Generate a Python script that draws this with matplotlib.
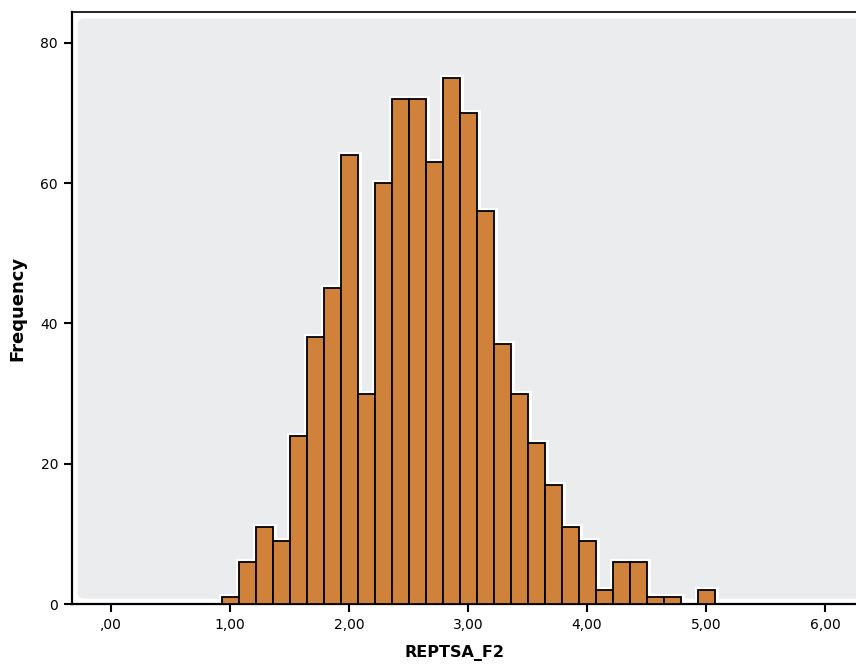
import numpy as np
import matplotlib
matplotlib.use("Agg")
import matplotlib.pyplot as plt
from matplotlib.patches import FancyBboxPatch

# histogram of REPTSA_F2 (bins of width 1/7 centred on 1,00 ... 5,00)
counts = [1, 6, 11, 9, 24, 38, 45, 64, 30, 60, 72, 72, 63, 75, 70, 56,
          37, 30, 23, 17, 11, 9, 2, 6, 6, 1, 1, 0, 2]
first_center = 1.0
bin_width = 1 / 7

x_ticks = [0, 1, 2, 3, 4, 5, 6]
x_tick_labels = [",00", "1,00", "2,00", "3,00", "4,00", "5,00", "6,00"]
y_ticks = [0, 20, 40, 60, 80]

bar_color = "#D0823A"
bg_color = "#EBECEE"

centers = first_center + bin_width * np.arange(len(counts))

fig = plt.figure(figsize=(8.56, 6.68), dpi=100)
ax = fig.add_axes([72 / 856, 64 / 668, 1 - 72 / 856, (604 - 12) / 668])

# light grey plotting area with a white margin and rounded corners
ax.add_patch(FancyBboxPatch((0.007, 0.009), 1.2, 0.98, boxstyle="round,pad=0,rounding_size=0.01",
                            transform=ax.transAxes, facecolor=bg_color, edgecolor="none", zorder=0))

# white halo behind the bars, then the bars themselves
ax.bar(centers, counts, width=bin_width, color=bar_color, edgecolor="white",
       linewidth=5, zorder=2)
ax.bar(centers, counts, width=bin_width, color=bar_color, edgecolor="black",
       linewidth=1.3, zorder=3)

ax.set_xlim(-0.328, 6.26)
ax.set_ylim(0, 84.4)
ax.set_xticks(x_ticks)
ax.set_xticklabels(x_tick_labels)
ax.set_yticks(y_ticks)
ax.tick_params(direction="out", length=6, width=1.5, labelsize=10, pad=4)

for s in ["left", "bottom"]:
    ax.spines[s].set_linewidth(1.6)
ax.spines["top"].set_linewidth(1.2)
ax.spines["right"].set_visible(False)

ax.set_ylabel("Frequency", fontsize=13, fontweight="bold")
ax.yaxis.set_label_coords(-0.058, 0.5)
ax.set_xlabel("REPTSA_F2", fontsize=11.5, fontweight="bold")
ax.xaxis.set_label_coords((454 - 72) / (856 - 72), -0.07)

fig.savefig("out.png", dpi=100)
